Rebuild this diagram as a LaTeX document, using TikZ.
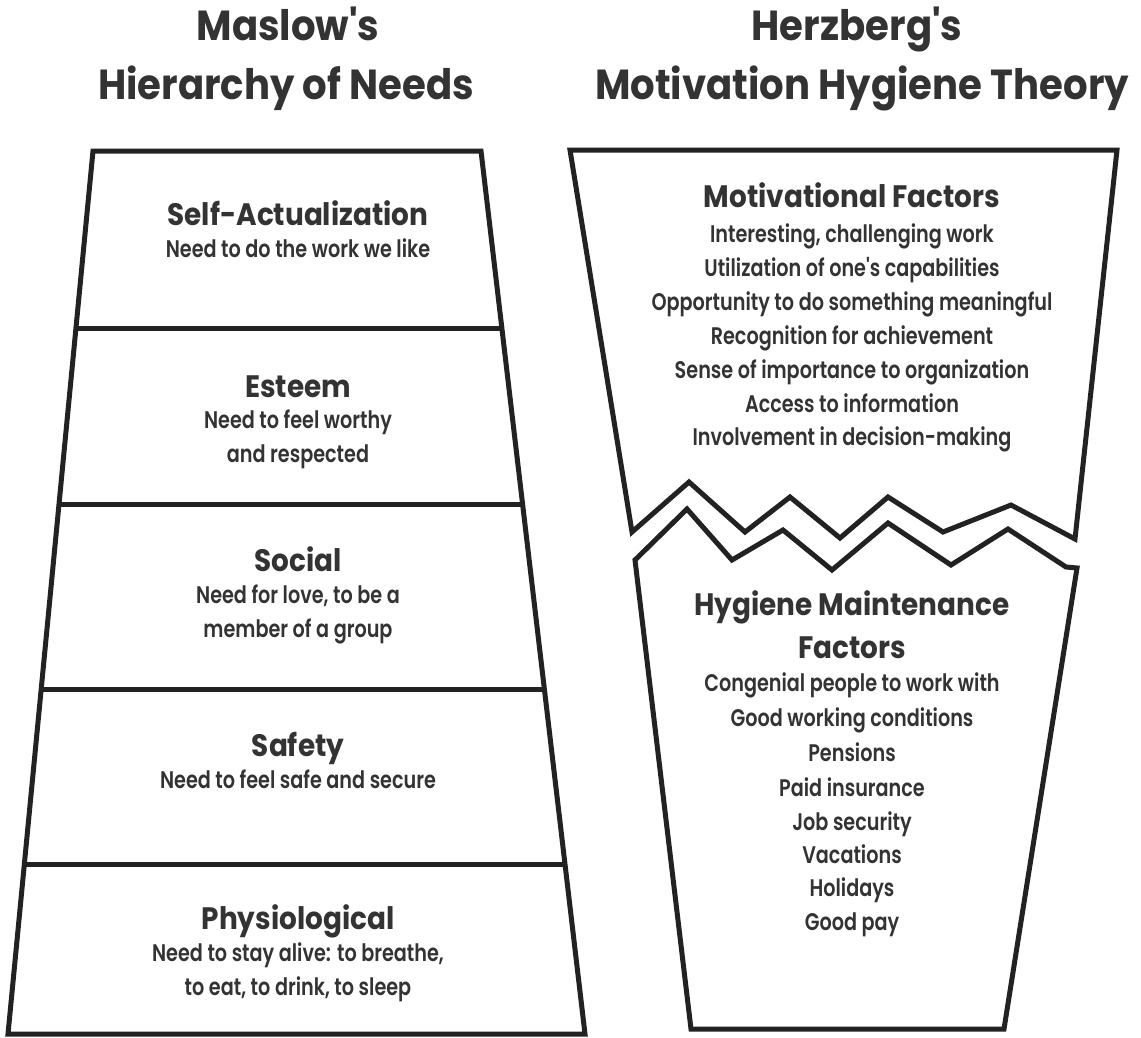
\documentclass[tikz,border=0pt]{standalone}
\usepackage{fontspec}
\newfontfamily\titlefont{Poppins Bold}[FakeStretch=0.92]
\newfontfamily\headfont{Poppins Bold}[FakeStretch=0.9]
\newfontfamily\bodyfont{Poppins SemiBold}[FakeStretch=0.8]
\usetikzlibrary{calc}
\definecolor{ink}{HTML}{222222}
\definecolor{txt}{HTML}{333333}

\begin{document}
\begin{tikzpicture}[x=1pt,y=-1pt,
  outline/.style={draw=ink,line width=5pt,line join=miter,line cap=butt},
  title/.style={font=\titlefont\fontsize{42}{46}\selectfont,text=txt,inner sep=0pt,text height=29pt,text depth=0pt},
  head/.style={font=\headfont\fontsize{31}{34}\selectfont,text=txt,inner sep=0pt,text height=22pt,text depth=0pt},
  body/.style={font=\bodyfont\fontsize{24}{28}\selectfont,text=txt,inner sep=0pt,text height=17pt,text depth=0pt}]

\useasboundingbox[fill=white] (0,0) rectangle (1141,1037);

% ---------- titles ----------
\node[title] (mtitleA) at (288,26) {Maslow's};
\node[title] (mtitleB) at (286,85) {Hierarchy of Needs};
\node[title] (htitleA) at (857,26) {Herzberg's};
\node[title] (htitleB) at (862,85) {Motivation Hygiene Theory};

% ---------- Maslow's pyramid ----------
\coordinate (tl) at (93,151);
\coordinate (tr) at (481,151);
\coordinate (bl) at (8,1034);
\coordinate (br) at (585,1034);
\draw[outline] (tl) -- (tr) -- (br) -- (bl) -- cycle;
\foreach \t in {0.2005,0.3998,0.6093,0.8075}
  \draw[outline] ($(tl)!\t!(bl)$) -- ($(tr)!\t!(br)$);

\foreach \txt/\yy [count=\i] in {Self-Actualization/214, Esteem/386, Social/560, Safety/745, Physiological/918}
  \node[head] (mh\i) at (298,\yy) {\txt};
\foreach \txt/\yy [count=\i] in {Need to do the work we like/249, Need to feel worthy/420, and respected/454,
    {Need for love, to be a}/595, member of a group/629, Need to feel safe and secure/780,
    {Need to stay alive: to breathe,}/953, {to eat, to drink, to sleep}/987}
  \node[body] (mb\i) at (298,\yy) {\txt};

% ---------- Herzberg's funnel, upper part ----------
\draw[outline] (570,150) -- (1117,150) -- (1075,539) -- (1011,505) -- (943,532)
  -- (888,497) -- (840,538) -- (790,497) -- (745,532) -- (689,482) -- (632,532) -- cycle;

% ---------- Herzberg's funnel, lower part ----------
\draw[outline] (635,560) -- (687,509) -- (732,560) -- (783,530) -- (832,570)
  -- (888,523) -- (951,565) -- (1008,529) -- (1066,567) -- (1077,568)
  -- (1004,1029) -- (691,1029) -- cycle;

\node[head] (mf) at (852,196) {Motivational Factors};
\foreach \txt/\yy [count=\i] in {{Interesting, challenging work}/234, Utilization of one's capabilities/268,
    Opportunity to do something meaningful/302, Recognition for achievement/336,
    Sense of importance to organization/370, Access to information/404,
    Involvement in decision-making/437}
  \node[body] (mf\i) at (852,\yy) {\txt};

\node[head] (hfA) at (852,604) {Hygiene Maintenance};
\node[head] (hfB) at (852,647) {Factors};
\foreach \txt/\yy [count=\i] in {Congenial people to work with/683, Good working conditions/718,
    Pensions/753, Paid insurance/788, Job security/822, Vacations/855, Holidays/888, Good pay/922}
  \node[body] (hf\i) at (852,\yy) {\txt};

\end{tikzpicture}
\end{document}
